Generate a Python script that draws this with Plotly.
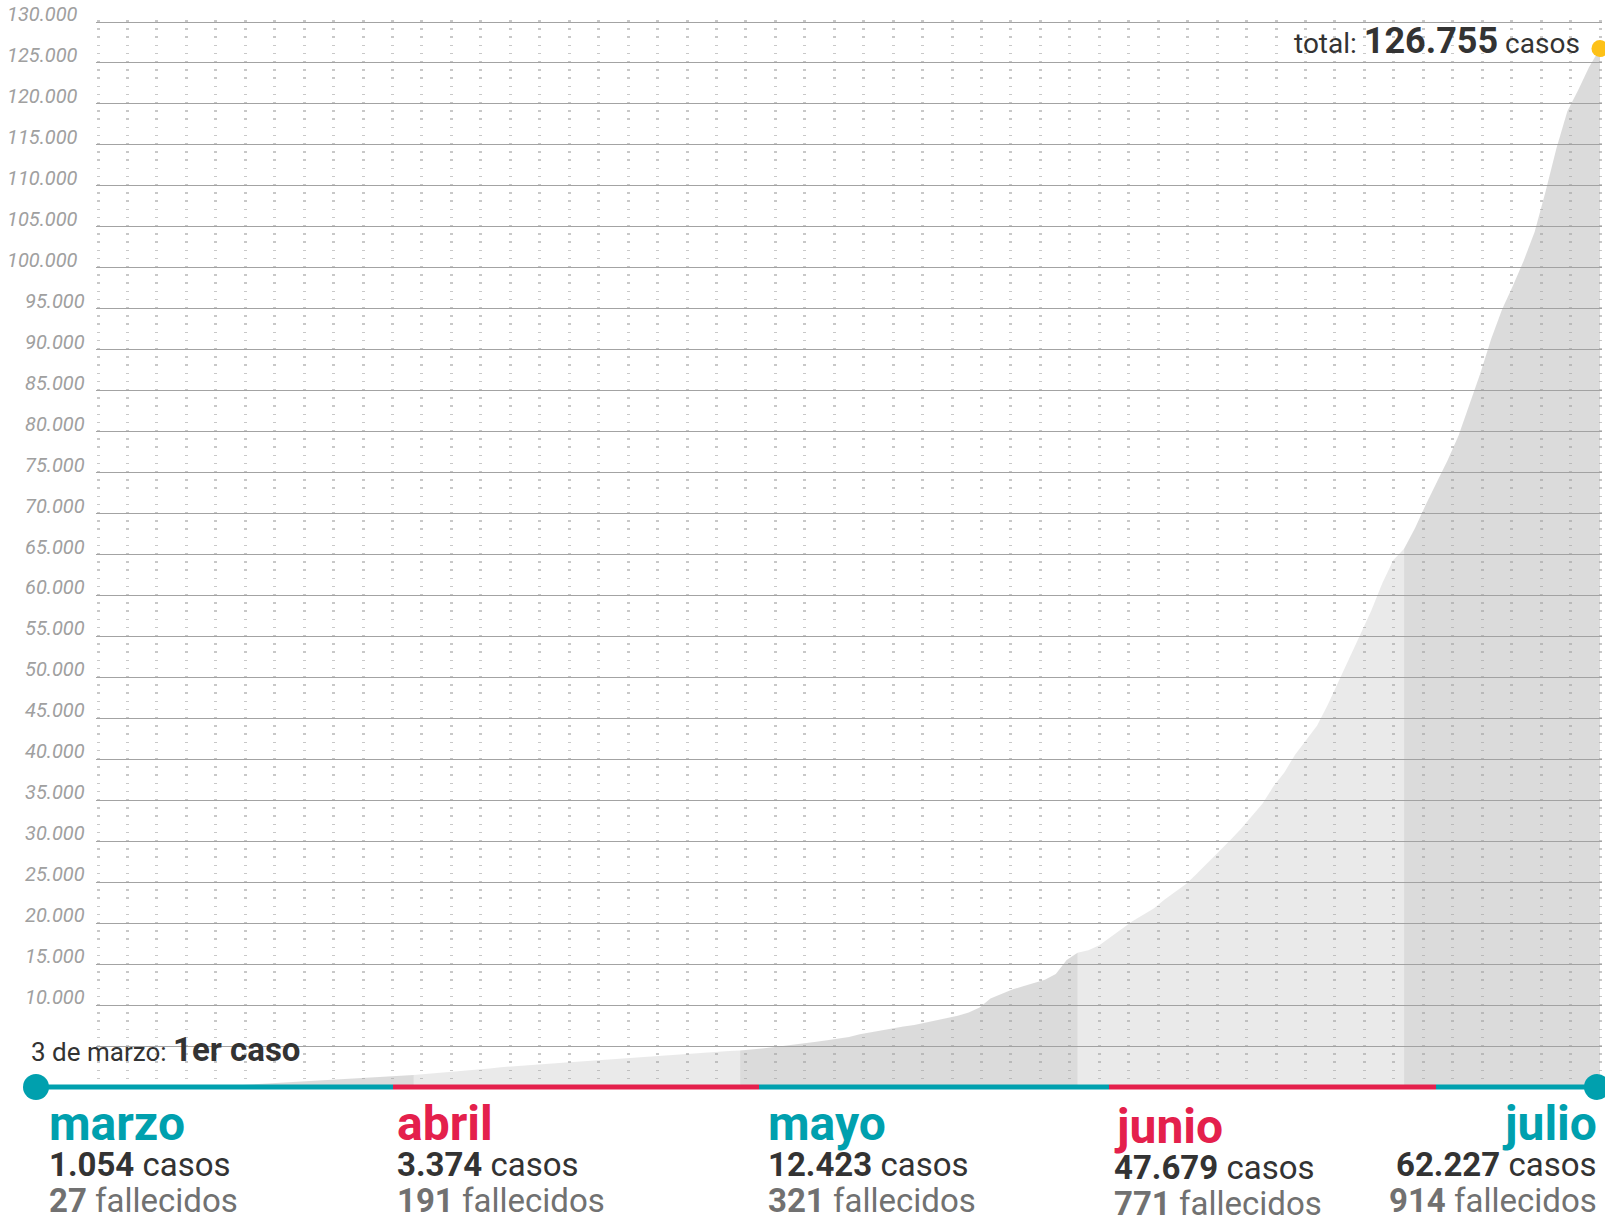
import plotly.graph_objects as go
import pandas as pd

# ---------------- DATA ----------------
fechas = pd.date_range("2020-03-03", "2020-07-19", freq="D")

casos_marzo = [1, 1, 2, 8, 9, 12, 17, 19, 21, 31, 45, 80, 150, 230, 310, 390, 470, 560,
               650, 740, 820, 900, 980, 1050, 1120, 1190, 1260, 1330, 1400]
casos_abril = [1480, 1580, 1680, 1790, 1900, 2000, 2110, 2260, 2420, 2530, 2630, 2720,
               2810, 2900, 2990, 3080, 3180, 3280, 3380, 3470, 3560, 3660, 3760, 3860,
               3960, 4060, 4150, 4230, 4310, 4400]
casos_mayo = [4470, 4560, 4690, 4840, 4990, 5150, 5340, 5530, 5720, 5900, 6090, 6450,
              6700, 6920, 7150, 7400, 7560, 7850, 8150, 8380, 8700, 9100, 9700, 10800,
              11400, 11900, 12300, 12700, 13100, 13800, 15500]
casos_junio = [16400, 16700, 17300, 18300, 19300, 20200, 21000, 21800, 22900, 23800,
               24800, 26100, 27400, 28700, 30100, 31500, 33000, 34600, 36700, 38400,
               40600, 42400, 44100, 46700, 49500, 52400, 55300, 58200, 61500, 64300]
casos_julio = [65700, 68200, 71100, 73800, 76500, 79500, 83400, 87100, 91300, 94900,
               97800, 100900, 104400, 109300, 114600, 119100, 121700, 124500, 126755]

casos = casos_marzo + casos_abril + casos_mayo + casos_junio + casos_julio

meses = ["marzo", "abril", "mayo", "junio", "julio"]
numeros_mes = [3, 4, 5, 6, 7]
casos_mes = [1054, 3374, 12423, 47679, 62227]
fallecidos_mes = [27, 191, 321, 771, 914]
ticks_y = list(range(10000, 130001, 5000))
y_max = 130000

# ---------------- STYLE / LAYOUT CONSTANTS ----------------
W, H = 1605, 1217
X0_PX, X1_PX = 98, 1600          # pixel span of first / last day
Y0_PX, Y1_PX = 1087, 22          # pixel of 0 and of y_max
PAD = 2                          # px of padding so edge gridlines are kept
L = X0_PX - PAD
PW = (X1_PX - X0_PX) + 2 * PAD
R = W - L - PW
T = Y1_PX - PAD
PH = (Y0_PX - Y1_PX) + PAD
B = H - T - PH

FONT = "Roboto"
TEAL = "#00a0ae"
RED = "#e4204c"
DARK = "#333333"
GRAY = "#717171"
FILL_DARK = "rgba(160,160,160,0.38)"
FILL_LIGHT = "rgba(160,160,160,0.22)"


def px(x):
    return (x - L) / PW


def py(y):
    return (H - B - y) / PH


def fmt(n):
    return f"{n:,}".replace(",", ".")


fig = go.Figure()

# area by month (alternating shades)
for i, m in enumerate(numeros_mes):
    idx = [k for k, f in enumerate(fechas) if f.month == m]
    if idx[-1] + 1 < len(fechas):
        idx.append(idx[-1] + 1)
    fig.add_trace(go.Scatter(
        x=[fechas[k] for k in idx], y=[casos[k] for k in idx],
        mode="lines", fill="tozeroy",
        line=dict(width=0, color="rgba(0,0,0,0)"),
        fillcolor=FILL_DARK if i % 2 == 0 else FILL_LIGHT,
        hoverinfo="skip", showlegend=False))

# total dot
fig.add_trace(go.Scatter(
    x=[fechas[-1]], y=[casos[-1]], mode="markers",
    marker=dict(size=17, color="#fdc117", line=dict(width=0)),
    cliponaxis=False, hoverinfo="skip", showlegend=False))

n_days = (fechas[-1] - fechas[0]).days
px_per_day = (X1_PX - X0_PX) / n_days
pad_days = pd.Timedelta(days=PAD / px_per_day)
val_per_px = y_max / (Y0_PX - Y1_PX)

fig.update_xaxes(
    type="date", range=[fechas[0] - pad_days, fechas[-1] + pad_days],
    showgrid=True, gridcolor="#c8c8c8", gridwidth=3, griddash="1.6px,6.6px",
    tick0=fechas[0], dtick=n_days / 51 * 86400000,
    showticklabels=False, ticks="", zeroline=False, showline=False)
fig.update_yaxes(
    range=[0, y_max + PAD * val_per_px], tick0=0, dtick=5000,
    showgrid=True, gridcolor="#a3a3a3", gridwidth=1,
    showticklabels=False, ticks="", zeroline=False, showline=False)

annotations = []

# y labels (italic, sitting on the gridline)
for v in ticks_y:
    annotations.append(dict(
        x=px(86), xref="paper", y=v, yref="y",
        xanchor="right", yanchor="bottom",
        xshift=-7 if v >= 100000 else 0, yshift=-5,
        text=f"<i>{fmt(v)}</i>", showarrow=False, borderpad=0,
        font=dict(family=FONT, size=20, color="#a0a0a0")))


def ann(text, x, baseline, size, anchor="left", color=DARK, maxsize=None):
    s = maxsize or size
    annotations.append(dict(
        x=px(x), xref="paper", y=py(baseline + 0.244 * s), yref="paper",
        xanchor=anchor, yanchor="bottom", text=text, showarrow=False,
        borderpad=0, font=dict(family=FONT, size=size, color=color)))


# total label
ann(f'total: <span style="font-size:36px"><b>{fmt(casos[-1])}</b></span> casos',
    1581, 54, 28, anchor="right", maxsize=36)

# first case
ann('3 de marzo: <span style="font-size:33px"><b>1er caso</b></span>',
    30, 1062, 26, maxsize=33)

# month summaries
grupo_x = [48, 396, 767, 1113, 1598]
desfase = [0, 0, 0, 3, 0]
for i, mes in enumerate(meses):
    anchor = "right" if i == len(meses) - 1 else "left"
    color = TEAL if i % 2 == 0 else RED
    d = desfase[i]
    ann(f"<b>{mes}</b>", grupo_x[i], 1141 + d, 48, anchor=anchor, color=color)
    ann(f"<b>{fmt(casos_mes[i])}</b> casos", grupo_x[i], 1177 + d, 33, anchor=anchor, color=DARK)
    ann(f"<b>{fallecidos_mes[i]}</b> fallecidos", grupo_x[i], 1213 + d, 33, anchor=anchor, color=GRAY)

# timeline (decorative)
tramos = [(36, 393, TEAL), (393, 759, RED), (759, 1109, TEAL), (1109, 1436, RED), (1436, 1597, TEAL)]
shapes = []
for x0, x1, c in tramos:
    shapes.append(dict(type="line", xref="paper", yref="paper",
                       x0=px(x0), x1=px(x1), y0=py(Y0_PX), y1=py(Y0_PX),
                       line=dict(color=c, width=5), layer="above"))
for xc in (36, 1597):
    shapes.append(dict(type="circle", xref="paper", yref="paper",
                       xsizemode="pixel", ysizemode="pixel",
                       xanchor=px(xc), yanchor=py(Y0_PX), x0=-13, x1=13, y0=-13, y1=13,
                       fillcolor=TEAL, line=dict(width=0), layer="above"))

fig.update_layout(
    width=W, height=H, autosize=False,
    margin=dict(l=L, r=R, t=T, b=B, pad=0),
    paper_bgcolor="white", plot_bgcolor="white",
    showlegend=False, hovermode=False,
    annotations=annotations, shapes=shapes,
    font=dict(family=FONT))

fig.write_html(
    "out.html", config={"displayModeBar": False},
    post_script="document.body.style.margin='0px';document.body.style.overflow='hidden';")
